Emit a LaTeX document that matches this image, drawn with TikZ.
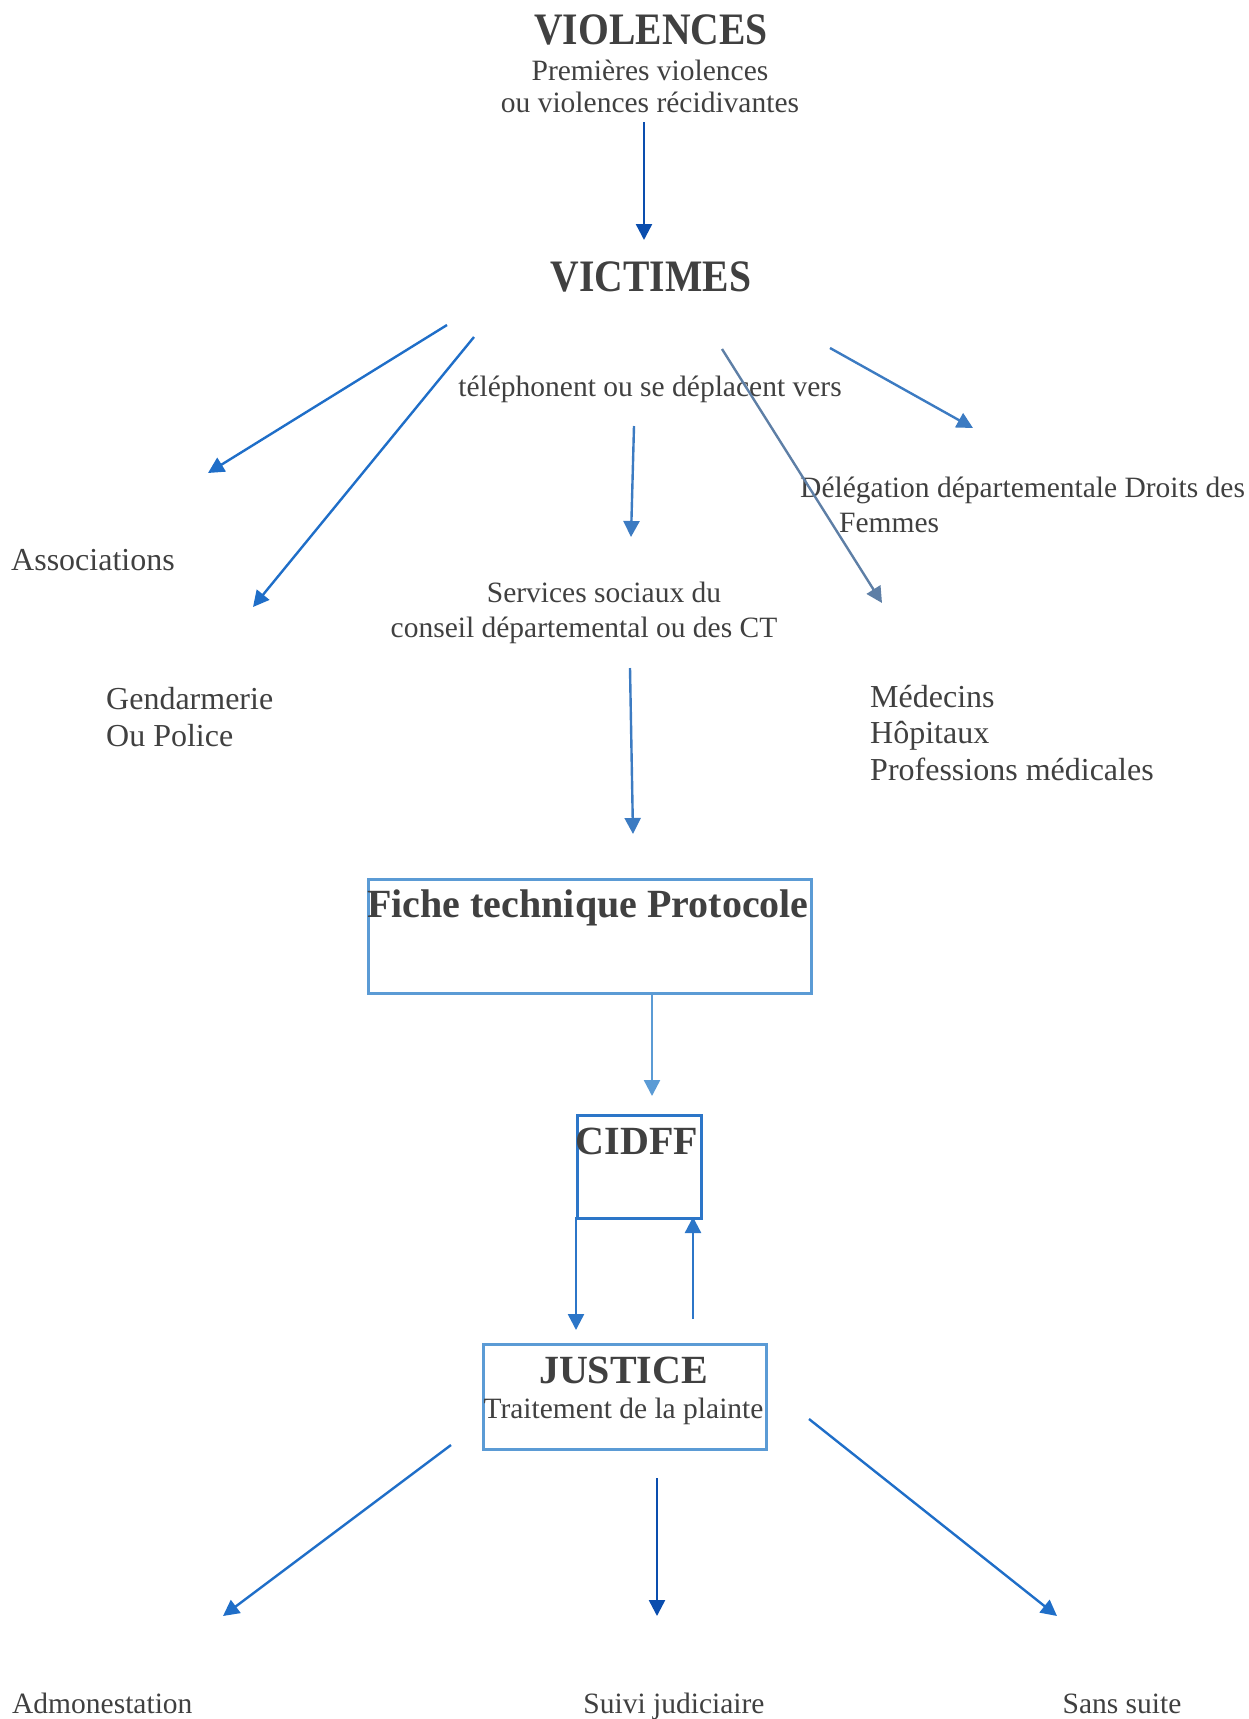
\documentclass[tikz,border=0pt]{standalone}
\usepackage{fontspec}
\setmainfont{Liberation Serif}
\newfontfamily\ttlfont[FakeStretch=0.88]{Liberation Serif}
\usetikzlibrary{arrows.meta}
\definecolor{txtgray}{HTML}{404040}
\definecolor{darkblue}{HTML}{0A4DAE}
\definecolor{midblue}{HTML}{1F6EC8}
\definecolor{boxblue}{HTML}{2C76C8}
\definecolor{softblue}{HTML}{3C7BC2}
\definecolor{lightblue}{HTML}{5B9BD5}
\definecolor{greyblue}{HTML}{5E7FA6}
\tikzset{
  txt/.style={inner sep=0pt,text=txtgray,font=\fontsize{29.5}{35}\selectfont},
  bigtxt/.style={inner sep=0pt,text=txtgray,align=left,anchor=north west},
  head/.style={inner sep=0pt,text=txtgray,font=\bfseries\fontsize{40}{46}\selectfont},
  ttl/.style={inner sep=0pt,text=txtgray,font=\ttlfont\bfseries\fontsize{45}{50}\selectfont},
  box/.style={draw=lightblue,line width=2.6pt,inner sep=0pt},
  arr/.style={line width=2.4pt,-{Triangle[length=16pt,width=16pt]}}
}
\begin{document}
\begin{tikzpicture}[x=1pt,y=-1pt]
    \useasboundingbox (0,0) rectangle (1248,1719);
    % top
    \node[ttl] (viol) at (651,30) {VIOLENCES};
    \node[txt,align=center,anchor=north,font=\fontsize{29.5}{32}\selectfont] (violsub) at (650,60) {Premières violences\\ou violences récidivantes};
    \node[ttl] (vict) at (651,277) {VICTIMES};
    \node[txt,anchor=base] (tel) at (650,396) {téléphonent ou se déplacent vers};
    % structures contacted
    \node[txt,anchor=base west,font=\fontsize{32}{37}\selectfont] (asso) at (11,570) {Associations};
    \node[bigtxt,font=\fontsize{32}{37}\selectfont] (gend) at (106,687) {Gendarmerie\\Ou Police};
    \node[txt,align=center,anchor=north] (serv) at (584,582) {\hspace*{40pt}Services sociaux du\\conseil départemental ou des CT};
    \node[txt,align=left,anchor=north west] (deleg) at (800,477) {Délégation départementale Droits des\\\hspace*{39pt}Femmes};
    \node[bigtxt,font=\fontsize{32}{36.5}\selectfont] (med) at (870,685) {Médecins\\Hôpitaux\\Professions médicales};
    % boxes
    \node[box,minimum width=443pt,minimum height=114pt,anchor=north west] (fiche) at (367,878) {};
    \node[head,anchor=base] (fichetxt) at (588,917) {Fiche technique Protocole};
    \node[box,draw=boxblue,minimum width=124pt,minimum height=103pt,anchor=north west] (cidff) at (576,1114) {};
    \node[head,anchor=base] (cidfftxt) at (637,1154) {CIDFF};
    \node[box,minimum width=283pt,minimum height=105pt,anchor=north west] (just) at (482,1343) {};
    \node[head,anchor=base] (justtxt) at (623.5,1383) {JUSTICE};
    \node[txt,anchor=base] (plainte) at (623.5,1418) {Traitement de la plainte};
    % outcomes
    \node[txt,anchor=base west] (admo) at (12,1713) {Admonestation};
    \node[txt,anchor=base] (suivi) at (674,1713) {Suivi judiciaire};
    \node[txt,anchor=base] (sans) at (1122,1713) {Sans suite};
    % arrow ends
    \coordinate (v1) at (644,122); \coordinate (v2) at (644,240);
    \coordinate (as1) at (447,325); \coordinate (as2) at (208,473);
    \coordinate (ge1) at (474,337); \coordinate (ge2) at (253,607);
    \coordinate (se1) at (634,426); \coordinate (se2) at (631,537);
    \coordinate (me1) at (722,349); \coordinate (me2) at (882,603);
    \coordinate (de1) at (830,348); \coordinate (de2) at (973,428);
    \coordinate (fi1) at (630,668); \coordinate (fi2) at (633,834);
    \coordinate (ci1) at (652,992); \coordinate (ci2) at (652,1096);
    \coordinate (ju1) at (576,1217); \coordinate (ju2) at (576,1330);
    \coordinate (up1) at (693,1319); \coordinate (up2) at (693,1217);
    \coordinate (ad1) at (451,1445); \coordinate (ad2) at (223,1616);
    \coordinate (su1) at (657,1478); \coordinate (su2) at (657,1616);
    \coordinate (sa1) at (809,1419); \coordinate (sa2) at (1057,1616);
    \foreach \s/\e/\c in {v1/v2/darkblue,as1/as2/midblue,ge1/ge2/midblue,se1/se2/softblue,
      me1/me2/greyblue,de1/de2/softblue,fi1/fi2/softblue,ci1/ci2/lightblue,ju1/ju2/boxblue,
      up1/up2/boxblue,ad1/ad2/midblue,su1/su2/darkblue,sa1/sa2/midblue}
      \draw[arr,\c] (\s) -- (\e);
\end{tikzpicture}
\end{document}
